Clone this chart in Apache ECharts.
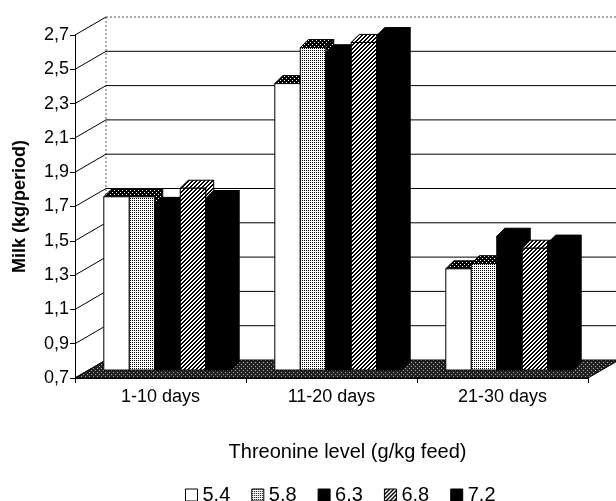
<!DOCTYPE html>
<html>
<head>
<meta charset="utf-8">
<script src="https://cdn.jsdelivr.net/npm/echarts@6/dist/echarts.min.js"></script>
<style>
html, body { margin: 0; padding: 0; background: #fff; }
#chart { width: 616px; height: 501px; }
</style>
</head>
<body>
<div id="chart"></div>
<script>
// milk yield per period, by threonine level
var categories = ['1-10 days', '11-20 days', '21-30 days'];
var levels = ['5.4', '5.8', '6.3', '6.8', '7.2'];
var milk54 = [1.71, 2.37, 1.29];
var milk58 = [1.71, 2.58, 1.32];
var milk63 = [1.66, 2.55, 1.48];
var milk68 = [1.76, 2.61, 1.41];
var milk72 = [1.70, 2.65, 1.44];
var yTicks = [0.7, 0.9, 1.1, 1.3, 1.5, 1.7, 1.9, 2.1, 2.3, 2.5, 2.7];

var seriesValues = [milk54, milk58, milk63, milk68, milk72];
var yMin = yTicks[0];
var yMax = yTicks[yTicks.length - 1];

// fake 3d offsets (px)
var WALL = [31, -18];
var BAR_SHIFT = [7, -8];
var BAR_DEPTH = [8, -8];

function makePattern(size, bg, fg, test) {
  var c = document.createElement('canvas');
  c.width = size;
  c.height = size;
  var ctx = c.getContext('2d');
  ctx.fillStyle = bg;
  ctx.fillRect(0, 0, size, size);
  ctx.fillStyle = fg;
  for (var x = 0; x < size; x++) {
    for (var y = 0; y < size; y++) {
      if (test(x, y)) ctx.fillRect(x, y, 1, 1);
    }
  }
  return { image: c, repeat: 'repeat' };
}

var lightDots = makePattern(4, '#fff', '#000', function (x, y) { return x % 2 === 0 && y % 2 === 0; });
var darkDots = makePattern(4, '#000', '#fff', function (x, y) { return x % 2 === 0 && y % 2 === 0 && (x + y) % 4 === 0; });
var hatch = makePattern(4, '#fff', '#000', function (x, y) { return (x + y) % 4 < 2; });
var floorFill = makePattern(4, '#222', '#aaa', function (x, y) { return (x === 1 && y === 0) || (x === 3 && y === 2); });

var faceStyles = [
  { front: '#fff', top: darkDots, side: darkDots },
  { front: lightDots, top: darkDots, side: darkDots },
  { front: '#000', top: '#000', side: '#000' },
  { front: hatch, top: hatch, side: hatch },
  { front: '#000', top: '#000', side: '#000' }
];

function face(fill) {
  return { fill: fill, stroke: '#000', lineWidth: 1 };
}

function barRenderer(si) {
  return function (params, api) {
    var ci = api.value(0);
    var base = api.coord([ci, yMin]);
    var top = api.coord([ci, api.value(1)]);
    var slot = api.size([1, 0])[0] * 0.745 / levels.length;
    var x0 = base[0] - slot * levels.length / 2 + slot * si + BAR_SHIFT[0];
    var x1 = x0 + slot;
    var yb = base[1] + BAR_SHIFT[1];
    var yt = top[1] + BAR_SHIFT[1];
    var dx = BAR_DEPTH[0];
    var dy = BAR_DEPTH[1];
    var st = faceStyles[si];
    return {
      type: 'group',
      children: [
        { type: 'polygon', shape: { points: [[x1, yb], [x1 + dx, yb + dy], [x1 + dx, yt + dy], [x1, yt]] }, style: face(st.side) },
        { type: 'polygon', shape: { points: [[x0, yt], [x1, yt], [x1 + dx, yt + dy], [x0 + dx, yt + dy]] }, style: face(st.top) },
        { type: 'rect', shape: { x: x0, y: yt, width: slot, height: yb - yt }, style: face(st.front) }
      ]
    };
  };
}

// walls + floor, one item per y tick
function frameRenderer(params, api) {
  var cs = params.coordSys;
  var v = api.value(1);
  var y = api.coord([0, v])[1];
  var xl = cs.x;
  var xr = cs.x + cs.width;
  var wx = WALL[0];
  var wy = WALL[1];
  var children = [];
  if (params.dataIndex === 0) {
    children.push({
      type: 'polygon',
      shape: { points: [[xl, y], [xr, y], [xr + wx, y + wy], [xl + wx, y + wy]] },
      style: { fill: floorFill, stroke: '#000', lineWidth: 1 }
    });
    children.push({
      type: 'line',
      shape: { x1: xl + wx, y1: cs.y + wy, x2: xl + wx, y2: cs.y + cs.height + wy },
      style: { stroke: '#555', lineWidth: 1, lineDash: [2, 2] }
    });
  } else {
    children.push({
      type: 'line',
      shape: { x1: xl + wx, y1: y + wy, x2: xr + wx, y2: y + wy },
      style: v === yMax ? { stroke: '#555', lineWidth: 1, lineDash: [2, 2] } : { stroke: '#000', lineWidth: 1 }
    });
  }
  children.push({
    type: 'line',
    shape: { x1: xl, y1: y, x2: xl + wx, y2: y + wy },
    style: { stroke: '#000', lineWidth: 1 }
  });
  return { type: 'group', children: children };
}

var series = [{
  name: 'frame',
  type: 'custom',
  z: 1,
  silent: true,
  renderItem: frameRenderer,
  data: yTicks.map(function (v) { return [0, v]; })
}];

levels.forEach(function (name, i) {
  series.push({
    name: name,
    type: 'custom',
    z: 3,
    renderItem: barRenderer(i),
    itemStyle: { color: faceStyles[i].front, borderColor: '#000', borderWidth: 1 },
    data: seriesValues[i].map(function (v, ci) { return [ci, v]; })
  });
});

var chart = echarts.init(document.getElementById('chart'));
chart.setOption({
  animation: false,
  backgroundColor: '#fff',
  textStyle: { fontFamily: '"Liberation Sans", Arial, sans-serif', color: '#000' },
  grid: { left: 75, top: 35, width: 513, height: 343 },
  legend: {
    left: 185,
    top: 485,
    padding: 0,
    icon: 'rect',
    itemWidth: 12,
    itemHeight: 12,
    itemGap: 21,
    textStyle: { fontSize: 20, color: '#000' },
    data: levels.map(function (n, i) {
      return { name: n, itemStyle: { color: faceStyles[i].front, borderColor: '#000', borderWidth: 1 } };
    })
  },
  xAxis: {
    type: 'category',
    data: categories,
    name: 'Threonine level (g/kg feed)',
    nameLocation: 'middle',
    nameGap: 64,
    nameTextStyle: { fontSize: 20, color: '#000', padding: [0, 0, 0, 32] },
    axisLine: { lineStyle: { color: '#000', width: 1 } },
    axisTick: { show: true, interval: 0, length: 5, lineStyle: { color: '#000' } },
    axisLabel: { fontSize: 18, color: '#000', margin: 10 },
    splitLine: { show: false }
  },
  yAxis: {
    type: 'value',
    min: yMin,
    max: yMax,
    interval: 0.2,
    name: 'Milk (kg/period)',
    nameLocation: 'middle',
    nameGap: 46,
    nameTextStyle: { fontSize: 18, fontWeight: 'bold', color: '#000' },
    axisLine: { show: true, lineStyle: { color: '#000', width: 1 } },
    axisTick: { show: true, length: 5, lineStyle: { color: '#000' } },
    axisLabel: {
      fontSize: 18,
      color: '#000',
      margin: 6,
      formatter: function (v) { return v.toFixed(1).replace('.', ','); }
    },
    splitLine: { show: false }
  },
  series: series
});
</script>
</body>
</html>
